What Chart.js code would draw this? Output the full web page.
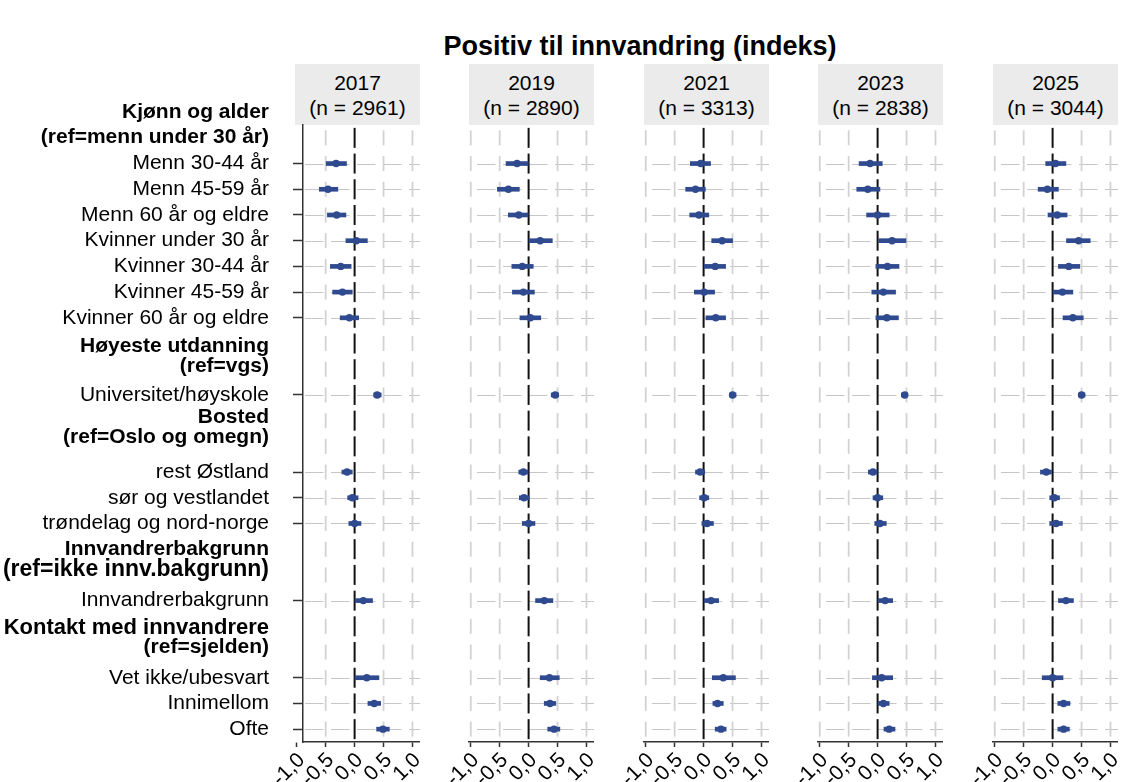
<!DOCTYPE html>
<html><head><meta charset="utf-8">
<script src="https://cdn.jsdelivr.net/npm/chart.js@4.4.1/dist/chart.umd.min.js"></script>
<style>
body{margin:0;background:#fff;}
#wrap{position:relative;width:1126px;height:782px;overflow:hidden;font-family:"Liberation Sans",Arial,Helvetica,sans-serif;color:#000;}
#title{position:absolute;left:0;width:1280px;top:30px;text-align:center;font-weight:bold;font-size:27px;line-height:32px;}
.strip{position:absolute;top:64px;height:61px;width:125px;background:#ebebeb;text-align:center;font-size:21px;line-height:25px;box-sizing:border-box;padding-top:6px;}
canvas{position:absolute;top:0;}
</style></head>
<body><div id="wrap"><div id="title">Positiv til innvandring (indeks)</div></div>
<script>
// ---------------- data ----------------
const years = ['2017','2019','2021','2023','2025'];
const sampleN = ['2961','2890','3313','2838','3044'];
const groupTitles = ['Kjønn og alder','Høyeste utdanning','Bosted','Innvandrerbakgrunn','Kontakt med innvandrere'];
const groupRefs = ['(ref=menn under 30 år)','(ref=vgs)','(ref=Oslo og omegn)','(ref=ikke innv.bakgrunn)','(ref=sjelden)'];
const categories = ['Menn 30-44 år','Menn 45-59 år','Menn 60 år og eldre','Kvinner under 30 år','Kvinner 30-44 år','Kvinner 45-59 år','Kvinner 60 år og eldre','Universitet/høyskole','rest Østland','sør og vestlandet','trøndelag og nord-norge','Innvandrerbakgrunn','Vet ikke/ubesvart','Innimellom','Ofte'];
const categoryGroup = [0,0,0,0,0,0,0,1,2,2,2,3,4,4,4];
const xTicks = [-1,-0.5,0,0.5,1];

const est2017 = [-0.32,-0.46,-0.31,0.03,-0.24,-0.21,-0.09,0.39,-0.13,-0.04,0.00,0.15,0.21,0.34,0.49];
const lo2017  = [-0.49,-0.61,-0.47,-0.15,-0.42,-0.38,-0.25,0.33,-0.22,-0.12,-0.10,0.00,0.00,0.23,0.38];
const hi2017  = [-0.14,-0.29,-0.15,0.22,-0.06,-0.04,0.07,0.46,-0.04,0.06,0.11,0.31,0.42,0.45,0.60];

const est2019 = [-0.20,-0.35,-0.17,0.20,-0.11,-0.09,0.03,0.46,-0.09,-0.08,0.00,0.27,0.36,0.37,0.44];
const lo2019  = [-0.39,-0.54,-0.35,0.01,-0.29,-0.28,-0.15,0.39,-0.17,-0.16,-0.11,0.12,0.20,0.27,0.33];
const hi2019  = [0.00,-0.16,0.00,0.41,0.08,0.10,0.21,0.52,-0.01,0.01,0.11,0.42,0.53,0.47,0.54];

const est2021 = [-0.05,-0.14,-0.08,0.32,0.20,0.01,0.21,0.50,-0.06,0.01,0.06,0.13,0.34,0.24,0.30];
const lo2021  = [-0.23,-0.31,-0.24,0.14,0.01,-0.16,0.04,0.45,-0.14,-0.07,-0.03,0.01,0.15,0.16,0.20];
const hi2021  = [0.12,0.03,0.09,0.50,0.38,0.19,0.38,0.56,0.02,0.09,0.17,0.26,0.55,0.34,0.39];

const est2023 = [-0.13,-0.17,0.00,0.25,0.17,0.10,0.16,0.47,-0.08,0.00,0.04,0.13,0.07,0.10,0.20];
const lo2023  = [-0.32,-0.36,-0.19,0.02,-0.03,-0.10,-0.03,0.41,-0.16,-0.08,-0.05,0.01,-0.09,0.01,0.11];
const hi2023  = [0.08,0.04,0.20,0.49,0.37,0.31,0.36,0.52,0.00,0.09,0.15,0.26,0.26,0.20,0.30];

const est2025 = [0.05,-0.09,0.08,0.45,0.28,0.17,0.35,0.50,-0.11,0.03,0.06,0.23,0.00,0.19,0.19];
const lo2025  = [-0.12,-0.25,-0.08,0.24,0.10,0.00,0.18,0.45,-0.21,-0.05,-0.05,0.10,-0.18,0.09,0.09];
const hi2025  = [0.23,0.10,0.25,0.65,0.47,0.35,0.53,0.56,-0.02,0.12,0.17,0.36,0.18,0.30,0.29];

const estimates = [est2017, est2019, est2021, est2023, est2025];
const lows = [lo2017, lo2019, lo2021, lo2023, lo2025];
const highs = [hi2017, hi2019, hi2021, hi2023, hi2025];

// ---------------- layout ----------------
const FONT = "'Liberation Sans', Arial, Helvetica, sans-serif";
const BLUE = '#2f4a8f';
const H = 782;
const PANEL_LEFT0 = 295, PANEL_PITCH = 174.4, PANEL_W = 125;
const AREA_TOP = 125, XAXIS_H = 40, SIDE_ROOM = 45;
const XMIN = -1.03, XMAX = 1.13;
const FIRST_AXIS_INSET = 8;
const HEADER_TITLE_SHIFT = [0, 0.12, -0.12, 0, 0.05];
const HEADER_REF_SHIFT = [0.96, 0.88, 0.66, 0.8, 0.82];
const LABEL_SIZE = {'(ref=ikke innv.bakgrunn)': 23, 'Kontakt med innvandrere': 22};

const itemSlots = [], yTickValues = [], yTickLabels = [], yTickBold = [];
let slot = -1, prevGroup = -1;
categories.forEach((c, i) => {
  const g = categoryGroup[i];
  if (g !== prevGroup) {
    yTickValues.push(slot + HEADER_TITLE_SHIFT[g]); yTickLabels.push(groupTitles[g]); yTickBold.push(true);
    yTickValues.push(slot + HEADER_REF_SHIFT[g]); yTickLabels.push(groupRefs[g]); yTickBold.push(true);
    slot += 2; prevGroup = g;
  }
  itemSlots.push(slot);
  yTickValues.push(slot); yTickLabels.push(c); yTickBold.push(false);
  slot++;
});
const YMIN = -0.5, YMAX = slot - 0.5;

const fmt = v => v.toFixed(1).replace('.', ',');

const gridPlugin = {
  id: 'facetGrid',
  beforeDatasetsDraw(chart) {
    const {ctx, chartArea: a, scales: {x, y}} = chart;
    ctx.save();
    ctx.strokeStyle = '#c6c6c6'; ctx.lineWidth = 1.2; ctx.setLineDash([18.5, 7.5]);
    const hStart = chart.options.hStart;
    itemSlots.forEach(s => {
      const py = Math.round(y.getPixelForValue(s)) + 0.5;
      ctx.beginPath(); ctx.moveTo(a.left + hStart, py); ctx.lineTo(a.right, py); ctx.stroke();
    });
    ctx.setLineDash([]);
    xTicks.forEach(v => {
      const px = x.getPixelForValue(v);
      if (px < a.left - 0.5) return;
      const zero = v === 0;
      ctx.strokeStyle = zero ? '#111' : '#d2d2d2';
      ctx.lineWidth = zero ? 2 : 1.8;
      const d = zero ? 20 : 15;
      for (let k = Math.ceil(YMIN); k <= Math.floor(YMAX); k++) {
        const py = y.getPixelForValue(k);
        const y0 = Math.max(a.top, py - d / 2), y1 = Math.min(a.bottom, py + d / 2);
        ctx.beginPath(); ctx.moveTo(px, y0); ctx.lineTo(px, y1); ctx.stroke();
      }
    });
    ctx.restore();
  }
};

const wrap = document.getElementById('wrap');

years.forEach((yr, idx) => {
  const left = Math.round(PANEL_LEFT0 + idx * PANEL_PITCH);
  const strip = document.createElement('div');
  strip.className = 'strip';
  strip.style.left = left + 'px';
  strip.innerHTML = yr + '<br>(n = ' + sampleN[idx] + ')';
  wrap.appendChild(strip);

  const first = idx === 0;
  const cv = document.createElement('canvas');
  const cvLeft = first ? 0 : left - SIDE_ROOM;
  const cvW = first ? left + PANEL_W : PANEL_W + SIDE_ROOM;
  cv.width = cvW; cv.height = H;
  cv.style.left = cvLeft + 'px';
  cv.style.width = cvW + 'px'; cv.style.height = H + 'px';
  wrap.appendChild(cv);

  const unit = PANEL_W / (XMAX - XMIN);
  const xmin = first ? XMIN + FIRST_AXIS_INSET / unit : XMIN;
  const yAxisW = first ? left + FIRST_AXIS_INSET : 0;

  const pts = estimates[idx].map((v, i) => ({x: v, y: itemSlots[i]}));
  const bars = lows[idx].map((v, i) => ({x: [v, highs[idx][i]], y: itemSlots[i]}));

  new Chart(cv, {
    type: 'bar',
    data: {datasets: [
      {type: 'scatter', data: pts, pointRadius: 3.7, pointHoverRadius: 3.7, backgroundColor: BLUE, borderColor: BLUE, borderWidth: 0, order: 0},
      {type: 'bar', indexAxis: 'y', data: bars, backgroundColor: BLUE, borderWidth: 0, barThickness: 4, order: 1}
    ]},
    options: {
      hStart: first ? 2 : 8,
      responsive: false, animation: false, devicePixelRatio: 1,
      events: [],
      layout: {autoPadding: false, padding: {top: AREA_TOP, bottom: 0, left: first ? 0 : SIDE_ROOM, right: 0}},
      plugins: {legend: {display: false}, tooltip: {enabled: false}, title: {display: false}},
      scales: {
        x: {
          type: 'linear', min: xmin, max: XMAX, position: 'bottom', offset: false,
          afterBuildTicks: s => { s.ticks = xTicks.map(v => ({value: v})); },
          afterFit: s => { s.height = XAXIS_H; s.paddingLeft = 0; s.paddingRight = 0; s.paddingTop = 0; s.paddingBottom = 0; },
          ticks: {callback: v => fmt(v), minRotation: 45, maxRotation: 45, autoSkip: false, labelOffset: 5,
                  font: {family: FONT, size: 21}, color: '#000', padding: 1},
          grid: {offset: false, drawOnChartArea: false, drawTicks: true, tickLength: 5, tickColor: '#333', tickWidth: 1.5},
          border: {display: true, color: '#333', width: 1.5}
        },
        y: {
          type: 'linear', min: YMIN, max: YMAX, reverse: true, position: 'left', offset: false,
          display: first,
          afterBuildTicks: s => { s.ticks = yTickValues.map(v => ({value: v})); },
          afterFit: s => { s.width = yAxisW; s.paddingTop = 0; s.paddingBottom = 0; s.paddingLeft = 0; s.paddingRight = 0; },
          ticks: {autoSkip: false, callback: (v, i) => yTickLabels[i], color: '#000', padding: 24,
                  font: c => ({family: FONT, size: LABEL_SIZE[yTickLabels[c.index]] || 21, weight: yTickBold[c.index] ? 'bold' : 'normal'})},
          grid: {offset: false, drawOnChartArea: false, drawTicks: true, tickLength: 10, tickWidth: 1.5,
                 tickColor: c => yTickBold[c.index] ? 'rgba(0,0,0,0)' : '#333'},
          border: {display: true, color: '#333', width: 1.5}
        }
      }
    },
    plugins: [gridPlugin]
  });
});
</script>
</body></html>
